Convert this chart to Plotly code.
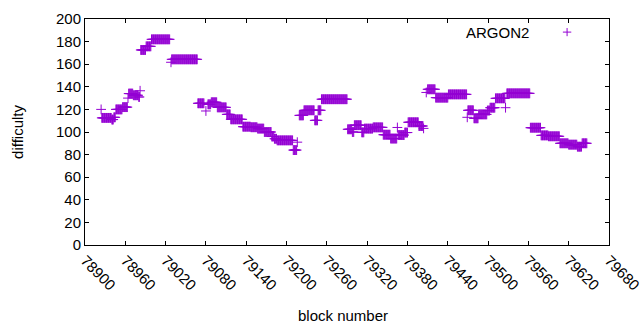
import plotly.graph_objects as go

# Runs of constant difficulty: (first block, last block, difficulty)
run_start = [78924, 78925, 78940, 78943, 78946, 78956, 78964, 78965, 78972, 78980, 78982,
             78983, 78991, 78999, 79028, 79029, 79068, 79080, 79083, 79088, 79097, 79111,
             79117, 79135, 79147, 79157, 79167, 79178, 79182, 79186, 79210, 79216, 79219,
             79226, 79242, 79247, 79252, 79291, 79298, 79301, 79312, 79316, 79329, 79344,
             79355, 79365, 79366, 79376, 79381, 79397, 79404, 79408, 79410, 79422, 79441,
             79469, 79470, 79479, 79486, 79499, 79503, 79511, 79526, 79528, 79563, 79579,
             79590, 79607, 79620, 79633, 79640, 79647]
run_end = [78924, 78939, 78942, 78945, 78955, 78963, 78964, 78971, 78979, 78981, 78982,
           78990, 78998, 79026, 79028, 79067, 79077, 79080, 79087, 79096, 79110, 79116,
           79134, 79146, 79156, 79166, 79177, 79181, 79185, 79209, 79215, 79216, 79225,
           79241, 79246, 79251, 79290, 79297, 79300, 79311, 79315, 79328, 79343, 79354,
           79364, 79365, 79375, 79380, 79396, 79403, 79404, 79408, 79421, 79440, 79468,
           79469, 79478, 79485, 79498, 79502, 79510, 79525, 79526, 79562, 79578, 79589,
           79606, 79619, 79632, 79639, 79646, 79647]
run_value = [120, 112.5, 111, 113, 120, 122, 130, 134, 132.5, 131, 136.5,
             172.6, 175.8, 182, 161.7, 164.3, 125.4, 118.6, 124.5, 126.3, 121.8, 115.6,
             111.2, 104.7, 104.2, 103, 100, 96, 94, 92.6, 84, 91, 114.7,
             119.2, 110.3, 119.2, 129, 102.4, 100, 106, 99.7, 103, 104.1, 97.6,
             94.2, 104, 97.3, 99.5, 108.6, 105.3, 103.2, 135, 137.8, 130.4, 133.3,
             113, 119.2, 112.1, 115.6, 119, 121.5, 129.8, 121.5, 134.2, 103.8, 97,
             96.2, 90, 88.8, 87, 90, 90]

x_ticks = list(range(78900, 79681, 60))
y_ticks = list(range(0, 201, 20))
series_name = "ARGON2"
color = "#9400D3"

blocks, diffs = [], []
for s, e, v in zip(run_start, run_end, run_value):
    for b in range(s, e + 1):
        blocks.append(b)
        diffs.append(v)

fig = go.Figure()
fig.add_trace(go.Scatter(
    x=blocks, y=diffs, mode="markers", name=series_name, showlegend=False,
    marker=dict(symbol="cross-thin", size=7, color=color,
                line=dict(color=color, width=1)),
))

font = dict(family="Liberation Sans, Arial, sans-serif", size=15, color="black")
axis_common = dict(
    showgrid=False, zeroline=False, showline=True, linecolor="black", linewidth=1,
    mirror="allticks", ticks="inside", ticklen=4, tickcolor="black", tickwidth=1,
    tickfont=font, automargin=False, ticklabeloverflow="allow",
)
fig.update_layout(
    width=640, height=330,
    margin=dict(l=85, r=31, t=19, b=85),
    plot_bgcolor="white", paper_bgcolor="white",
    font=font,
    xaxis=dict(range=[78900, 79680], tickvals=x_ticks, ticktext=[str(t) for t in x_ticks],
               tickangle=45, **axis_common),
    yaxis=dict(range=[0, 200], tickvals=y_ticks, **axis_common),
    annotations=[
        dict(text="difficulty", xref="paper", yref="paper", x=-0.13, y=0.5,
             textangle=-90, showarrow=False, font=font, xanchor="center", yanchor="middle"),
        dict(text="block number", xref="paper", yref="paper", x=0.493, y=-0.31,
             showarrow=False, font=font, xanchor="center", yanchor="middle"),
        dict(text=series_name, xref="paper", yref="paper", x=0.852, y=0.942,
             showarrow=False, font=font, xanchor="right", yanchor="middle"),
    ],
    shapes=[
        dict(type="line", xref="paper", yref="paper", x0=0.912, x1=0.928, y0=0.942, y1=0.942,
             line=dict(color=color, width=1)),
        dict(type="line", xref="paper", yref="paper", x0=0.920, x1=0.920, y0=0.924, y1=0.960,
             line=dict(color=color, width=1)),
    ],
)
fig.write_html("out.html", config={"displayModeBar": False},
               post_script="document.body.style.margin='0px';document.body.style.overflow='hidden';")
